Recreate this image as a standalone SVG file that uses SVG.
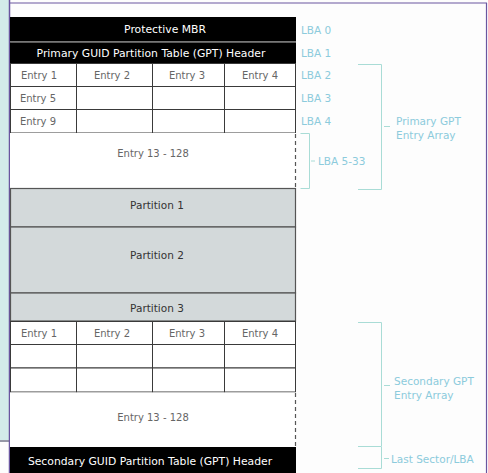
<svg xmlns="http://www.w3.org/2000/svg" width="488" height="473" viewBox="0 0 488 473">
<style>
.hdr{fill:#000}
.hdrt{fill:#fff;font-family:"DejaVu Sans",sans-serif;font-size:10.8px;text-anchor:middle}
.cell{fill:#fff;stroke:#3a3a3a;stroke-width:1}
.et{fill:#666;font-family:"DejaVu Sans",sans-serif;font-size:10px;text-anchor:middle}
.part{fill:#d3d9da;stroke:#555;stroke-width:1.2}
.pt{fill:#333;font-family:"DejaVu Sans",sans-serif;font-size:10.5px;text-anchor:middle}
.lbl{fill:#8ccbdc;font-family:"DejaVu Sans",sans-serif;font-size:10.5px}
.br{fill:none;stroke:#a9dcd6;stroke-width:1}
.dash{stroke:#555;stroke-width:1.2;stroke-dasharray:4 3;fill:none}
</style>
<rect x="0" y="0" width="488" height="473" fill="#fdfdfd"/>
<rect x="0" y="0" width="9" height="440" fill="#d3ecea"/>
<line x1="0" y1="441" x2="80" y2="441" stroke="#2f3350" stroke-width="1"/>
<line x1="9.5" y1="0" x2="9.5" y2="473" stroke="#6a56a0" stroke-width="1.5"/>
<line x1="10" y1="3" x2="487" y2="3" stroke="#6a56a0" stroke-width="1.2"/>
<line x1="486.5" y1="3" x2="486.5" y2="473" stroke="#6a56a0" stroke-width="1.2"/>

<g id="mbr"><rect class="hdr" x="10" y="17" width="286" height="24"/><text class="hdrt" x="165" y="33">Protective MBR</text></g>
<rect x="10" y="41" width="286" height="1.5" fill="#777"/>
<g id="gpt-header"><rect class="hdr" x="10" y="42.5" width="286" height="20.5"/><text class="hdrt" x="151" y="57">Primary GUID Partition Table (GPT) Header</text></g>

<g id="primary-entries">
<rect class="cell" x="10.5" y="63.5" width="66" height="23"/><rect class="cell" x="76.5" y="63.5" width="76" height="23"/><rect class="cell" x="152.5" y="63.5" width="72" height="23"/><rect class="cell" x="224.5" y="63.5" width="71" height="23"/>
<rect class="cell" x="10.5" y="86.5" width="66" height="23"/><rect class="cell" x="76.5" y="86.5" width="76" height="23"/><rect class="cell" x="152.5" y="86.5" width="72" height="23"/><rect class="cell" x="224.5" y="86.5" width="71" height="23"/>
<rect class="cell" x="10.5" y="109.5" width="66" height="23.5"/><rect class="cell" x="76.5" y="109.5" width="76" height="23.5"/><rect class="cell" x="152.5" y="109.5" width="72" height="23.5"/><rect class="cell" x="224.5" y="109.5" width="71" height="23.5"/>
<text class="et" x="39" y="79">Entry 1</text><text class="et" x="112" y="79">Entry 2</text><text class="et" x="187" y="79">Entry 3</text><text class="et" x="260" y="79">Entry 4</text>
<text class="et" x="38" y="102">Entry 5</text><text class="et" x="38" y="125">Entry 9</text>
</g>
<g id="primary-rest"><rect x="10" y="133" width="286" height="55" fill="#fff"/><line class="dash" x1="295.5" y1="134" x2="295.5" y2="188"/><text class="et" x="153" y="157">Entry 13 - 128</text></g>

<g id="partition1"><rect class="part" x="10.5" y="188.5" width="285" height="38.5"/><text class="pt" x="157" y="209">Partition 1</text></g>
<g id="partition2"><rect class="part" x="10.5" y="227" width="285" height="66"/><text class="pt" x="157" y="259">Partition 2</text></g>
<g id="partition3"><rect class="part" x="10.5" y="293" width="285" height="28"/><text class="pt" x="157" y="312">Partition 3</text></g>

<g id="secondary-entries">
<rect class="cell" x="10.5" y="321.5" width="66" height="23"/><rect class="cell" x="76.5" y="321.5" width="76" height="23"/><rect class="cell" x="152.5" y="321.5" width="72" height="23"/><rect class="cell" x="224.5" y="321.5" width="71" height="23"/>
<rect class="cell" x="10.5" y="344.5" width="66" height="23.5"/><rect class="cell" x="76.5" y="344.5" width="76" height="23.5"/><rect class="cell" x="152.5" y="344.5" width="72" height="23.5"/><rect class="cell" x="224.5" y="344.5" width="71" height="23.5"/>
<rect class="cell" x="10.5" y="368" width="66" height="24"/><rect class="cell" x="76.5" y="368" width="76" height="24"/><rect class="cell" x="152.5" y="368" width="72" height="24"/><rect class="cell" x="224.5" y="368" width="71" height="24"/>
<text class="et" x="39" y="337">Entry 1</text><text class="et" x="112" y="337">Entry 2</text><text class="et" x="187" y="337">Entry 3</text><text class="et" x="260" y="337">Entry 4</text>
</g>
<g id="secondary-rest"><rect x="10" y="392.5" width="286" height="54.5" fill="#fff"/><line class="dash" x1="295.5" y1="393" x2="295.5" y2="447"/><text class="et" x="153" y="421">Entry 13 - 128</text></g>
<g id="secondary-header"><rect class="hdr" x="10" y="447" width="286" height="26"/><text class="hdrt" x="150" y="465">Secondary GUID Partition Table (GPT) Header</text></g>

<g id="labels">
<text class="lbl" x="301" y="34">LBA 0</text>
<text class="lbl" x="301" y="57">LBA 1</text>
<text class="lbl" x="301" y="79">LBA 2</text>
<text class="lbl" x="301" y="102">LBA 3</text>
<text class="lbl" x="301" y="125">LBA 4</text>
<text class="lbl" x="318" y="165">LBA 5-33</text>
<text class="lbl" x="396" y="125">Primary GPT</text>
<text class="lbl" x="396" y="139">Entry Array</text>
<text class="lbl" x="394" y="385">Secondary GPT</text>
<text class="lbl" x="394" y="399">Entry Array</text>
<text class="lbl" x="391" y="463">Last Sector/LBA</text>
</g>

<g id="connectors">
<path class="br" d="M300.5,133.5 H309.5 V188.5 H300.5 M311,161 H315"/>
<path class="br" d="M358,64.5 H381.5 V189.5 H358 M384,126.5 H390"/>
<path class="br" d="M358,322.5 H381.5 V446.5 H358 M384,385.5 H390"/>
<path class="br" d="M381.5,447 V468.5 H358 M384,458.5 H389"/>
</g>
</svg>
